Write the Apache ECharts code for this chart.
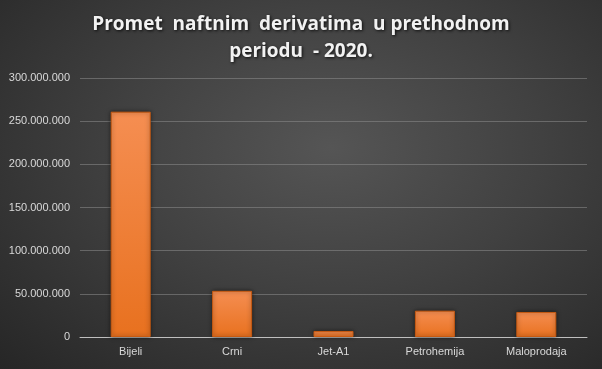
<!DOCTYPE html>
<html><head><meta charset="utf-8">
<script src="https://cdn.jsdelivr.net/npm/echarts@6/dist/echarts.min.js"></script>
<style>
html,body{margin:0;padding:0;}
#c{width:602px;height:369px;background:radial-gradient(ellipse at 55% 40%, #555555 0%, #414141 45%, #262626 100%);}
</style></head>
<body><div id="c"></div>
<script>
const categories = ['Bijeli', 'Crni', 'Jet-A1', 'Petrohemija', 'Maloprodaja'];
const values = [261000000, 53500000, 7000000, 30500000, 29000000];
const titleText = 'Promet  naftnim  derivatima  u prethodnom\nperiodu  - 2020.';

function fmt(v) {
  return String(Math.round(v)).replace(/\B(?=(\d{3})+(?!\d))/g, '.');
}

const chart = echarts.init(document.getElementById('c'), null, {renderer: 'canvas'});
chart.setOption({
  backgroundColor: 'transparent',
  animation: false,
  title: {
    text: titleText,
    left: 'center',
    top: 6,
    textStyle: {
      color: '#f2f2f2', fontSize: 19, fontWeight: 'bold', fontFamily: 'Open Sans',
      lineHeight: 27, textShadowColor: 'rgba(0,0,0,0.8)', textShadowBlur: 3,
      textShadowOffsetX: 1, textShadowOffsetY: 1
    }
  },
  grid: {left: 80, right: 15, top: 78, bottom: 32, containLabel: false},
  xAxis: {
    type: 'category',
    data: categories,
    axisLine: {lineStyle: {color: '#bfbfbf', width: 1}},
    axisTick: {show: false},
    axisLabel: {color: '#d9d9d9', fontSize: 11, fontFamily: 'Liberation Sans', margin: 9}
  },
  yAxis: {
    type: 'value',
    min: 0, max: 300000000, interval: 50000000,
    axisLine: {show: false},
    axisTick: {show: false},
    splitLine: {lineStyle: {color: 'rgba(140,140,140,0.55)', width: 1}},
    axisLabel: {color: '#d9d9d9', fontSize: 11, fontFamily: 'Liberation Sans', margin: 10, formatter: fmt}
  },
  series: [{
    type: 'bar',
    data: values,
    barWidth: 40,
    itemStyle: {
      color: new echarts.graphic.LinearGradient(0, 0, 0, 1, [
        {offset: 0, color: '#f58e52'},
        {offset: 1, color: '#e8711f'}
      ]),
      borderColor: '#c75a12',
      borderWidth: 1,
      shadowColor: 'rgba(0,0,0,0.5)',
      shadowBlur: 4
    }
  }]
});
</script>
</body></html>
